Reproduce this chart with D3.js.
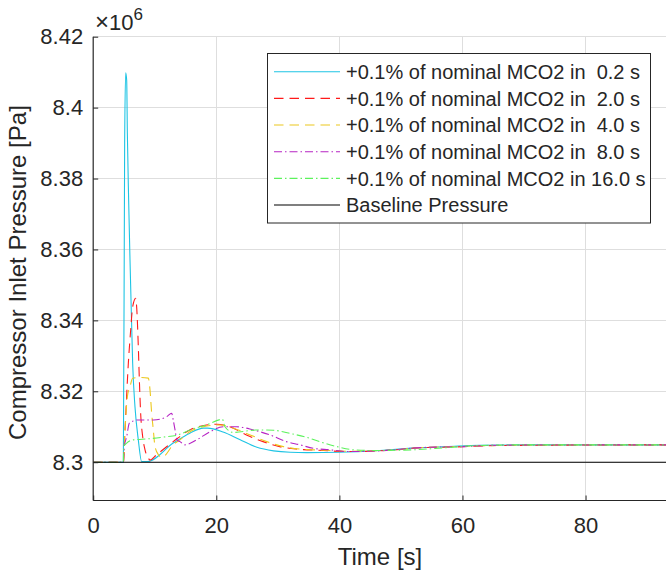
<!DOCTYPE html>
<html>
<head>
<meta charset="utf-8">
<script src="https://cdn.jsdelivr.net/npm/d3@7"></script>
<style>
  html, body { margin: 0; padding: 0; background: #fff; }
  svg { display: block; font-family: "Liberation Sans", Arial, Helvetica, sans-serif; }
  text { white-space: pre; }
</style>
</head>
<body>
<svg id="chart" width="666" height="574"></svg>
<script>
// ---- data (pressure in units of 1e6 Pa, time in s) ----
const seriesNames = [
  "+0.1% of nominal MCO2 in  0.2 s",
  "+0.1% of nominal MCO2 in  2.0 s",
  "+0.1% of nominal MCO2 in  4.0 s",
  "+0.1% of nominal MCO2 in  8.0 s",
  "+0.1% of nominal MCO2 in 16.0 s"
];
const baselineName = "Baseline Pressure";
const baselineValue = 8.3;

const T_02 = [0, 4.90, 5.11, 5.28, 5.44, 5.55, 5.76, 5.98, 6.20, 6.41, 6.79, 7.33, 7.87, 8.79, 13.0, 15.7, 17.9, 18.6, 21.1, 23.8, 26.6, 29.3, 32.0, 34.7, 40.0, 46.6, 53.1, 57.4, 62.8, 70, 93.2];
const P_02 = [8.3, 8.3, 8.390, 8.4098, 8.4077, 8.3928, 8.3739, 8.357, 8.342, 8.328, 8.3156, 8.3063, 8.3002, 8.3002, 8.3054, 8.3082, 8.3096, 8.3096, 8.3085, 8.3064, 8.3042, 8.3032, 8.3028, 8.3027, 8.3028, 8.3033, 8.3041, 8.3044, 8.3048, 8.3049, 8.3049];

const T_2 = [0, 4.9, 5.17, 5.71, 6.09, 6.41, 6.90, 7.06, 7.33, 7.50, 7.71, 8.04, 8.42, 8.96, 9.23, 10.3, 13.0, 15.7, 18.4, 20.1, 22.2, 24.9, 27.6, 30.3, 33.1, 37.4, 41.2, 49.3, 53.1, 59.0, 65.6, 93.2];
const P_2 = [8.3, 8.3, 8.3091, 8.3279, 8.3373, 8.3438, 8.3462, 8.3438, 8.3326, 8.3232, 8.3138, 8.3072, 8.3035, 8.3011, 8.3006, 8.3021, 8.3058, 8.3091, 8.3105, 8.3107, 8.3100, 8.3077, 8.3058, 8.3044, 8.3037, 8.3033, 8.3030, 8.3035, 8.3041, 8.3043, 8.3047, 8.3049];

const T_4 = [0, 4.9, 5.17, 5.55, 5.98, 6.41, 7.6, 8.96, 9.23, 9.50, 9.77, 10.04, 10.6, 11.2, 13.0, 14.1, 15.7, 17.9, 20.6, 22.8, 25.5, 28.2, 30.9, 33.6, 37.5, 41.5, 49, 53, 59, 65.5, 93.2];
const P_4 = [8.3, 8.3, 8.3091, 8.3185, 8.3213, 8.3237, 8.3239, 8.3237, 8.3204, 8.3138, 8.3091, 8.3044, 8.3021, 8.3014, 8.3049, 8.3063, 8.3086, 8.3100, 8.3105, 8.3096, 8.3077, 8.3058, 8.3044, 8.3037, 8.3034, 8.3031, 8.3035, 8.3041, 8.3044, 8.3047, 8.3049];

const T_8 = [0, 4.9, 5.06, 5.44, 5.87, 6.25, 7.06, 9.77, 11.9, 12.75, 13.0, 13.3, 13.6, 14.1, 14.9, 16.8, 19.0, 21.1, 23.3, 26.0, 28.7, 31.4, 33.6, 35.8, 38.5, 41.2, 46.6, 53.1, 60.1, 66, 93.2];
const P_8 = [8.3, 8.3, 8.3044, 8.3072, 8.3110, 8.3114, 8.3119, 8.3119, 8.3128, 8.3138, 8.3119, 8.3091, 8.3063, 8.3058, 8.3049, 8.3063, 8.3086, 8.3100, 8.3100, 8.3091, 8.3077, 8.3058, 8.3049, 8.3039, 8.3035, 8.3030, 8.3032, 8.3041, 8.3044, 8.3048, 8.3049];

const T_16 = [0, 4.9, 4.95, 5.44, 6.52, 9.0, 11.5, 13.8, 15.7, 18.4, 21.0, 21.4, 22.8, 26.6, 29.3, 32.3, 34.7, 36.8, 39.6, 42.3, 45.5, 52.0, 57.4, 62.8, 70, 93.2];
const P_16 = [8.3, 8.3, 8.3044, 8.3054, 8.3063, 8.3066, 8.3071, 8.3077, 8.3091, 8.3105, 8.3121, 8.3100, 8.3084, 8.3091, 8.3090, 8.3080, 8.3070, 8.3058, 8.3044, 8.3035, 8.3033, 8.3035, 8.3041, 8.3047, 8.3049, 8.3049];

const xTicks = [0, 20, 40, 60, 80];
const yTicks = [8.3, 8.32, 8.34, 8.36, 8.38, 8.4, 8.42];
const yTickLabels = ["8.3", "8.32", "8.34", "8.36", "8.38", "8.4", "8.42"];
const xLabel = "Time [s]";
const yLabel = "Compressor Inlet Pressure [Pa]";

// ---- styles ----
const seriesStyles = [
  { color: "#1ec4e4", dash: null },
  { color: "#ff1a1a", dash: "9.5,6" },
  { color: "#ecc81e", dash: "9.5,6" },
  { color: "#b624c4", dash: "8,3,1.5,3" },
  { color: "#5cf25c", dash: "8,3,1.5,3" }
];

const seriesData = [[T_02, P_02], [T_2, P_2], [T_4, P_4], [T_8, P_8], [T_16, P_16]]
  .map(([t, p]) => t.map((v, i) => ({ t: v, p: p[i] })));

const svg = d3.select("#chart");
const x = d3.scaleLinear().domain([0, 93.2]).range([93.2, 666.8]);
const y = d3.scaleLinear().domain([8.2892, 8.42]).range([500.5, 36.7]);
const pLeft = x.range()[0], pRight = x.range()[1];
const pTop = y.range()[1], pBottom = y.range()[0];
const axisColor = "#262626";

// grid
const grid = svg.append("g");
grid.selectAll(".gx").data(xTicks.filter(d => d > 0)).join("line")
  .attr("x1", d => x(d)).attr("x2", d => x(d))
  .attr("y1", pTop).attr("y2", pBottom)
  .attr("stroke", "#dedede").attr("stroke-width", 1).attr("shape-rendering", "crispEdges");
grid.selectAll(".gy").data(yTicks).join("line")
  .attr("x1", pLeft).attr("x2", pRight)
  .attr("y1", d => y(d)).attr("y2", d => y(d))
  .attr("stroke", "#dedede").attr("stroke-width", 1).attr("shape-rendering", "crispEdges");

// lines
svg.append("clipPath").attr("id", "clip").append("rect")
  .attr("x", pLeft).attr("y", pTop - 1).attr("width", pRight - pLeft).attr("height", pBottom - pTop + 1);
const line = d3.line().x(d => x(d.t)).y(d => y(d.p)).curve(d3.curveMonotoneX);
const plot = svg.append("g").attr("clip-path", "url(#clip)");
seriesData.forEach((data, i) => {
  plot.append("path").datum(data)
    .attr("fill", "none")
    .attr("stroke", seriesStyles[i].color)
    .attr("stroke-width", 1.1)
    .attr("stroke-dasharray", seriesStyles[i].dash)
    .attr("d", line);
});
plot.append("path").datum([{ t: 0, p: baselineValue }, { t: 93.2, p: baselineValue }])
  .attr("fill", "none").attr("stroke", "#000").attr("stroke-width", 1.1).attr("d", line);

// axes
const xAxis = d3.axisBottom(x).tickValues(xTicks).tickSize(-5).tickPadding(17).tickFormat(d3.format("d"));
const yAxis = d3.axisLeft(y).tickValues(yTicks).tickSize(-5).tickPadding(10)
  .tickFormat((d, i) => yTickLabels[i]);

const gx = svg.append("g").attr("transform", `translate(0,${pBottom})`).call(xAxis);
const gy = svg.append("g").attr("transform", `translate(${pLeft},0)`).call(yAxis);
[gx, gy].forEach(g => {
  g.select(".domain").attr("stroke", axisColor).attr("stroke-width", 1.2);
  g.selectAll(".tick line").attr("stroke", axisColor).attr("stroke-width", 1);
  g.selectAll(".tick text").attr("fill", axisColor).attr("font-size", 22)
    .attr("font-family", "Liberation Sans, Arial, sans-serif");
});
gx.select(".domain").attr("d", `M${pLeft},0H${pRight + 5}`);
gy.select(".domain").attr("d", `M0,${pBottom}V${pTop}`);

// exponent label
const expo = svg.append("text").attr("x", 95).attr("y", 29.5)
  .attr("fill", axisColor).attr("font-size", 22);
expo.append("tspan").attr("font-size", 24).text("\u00d7");
expo.append("tspan").text("10");
expo.append("tspan").attr("font-size", 17).attr("dy", -10).text("6");

// axis labels
svg.append("text").attr("x", (pLeft + pRight) / 2).attr("y", 565)
  .attr("text-anchor", "middle").attr("fill", axisColor).attr("font-size", 24).text(xLabel);
svg.append("text").attr("transform", `translate(26,${(pTop + pBottom) / 2 + 4}) rotate(-90)`)
  .attr("text-anchor", "middle").attr("fill", axisColor).attr("font-size", 24).text(yLabel);

// legend
const lg = svg.append("g");
lg.append("rect").attr("x", 267.5).attr("y", 53.5).attr("width", 383).attr("height", 169.5)
  .attr("fill", "#fff").attr("stroke", axisColor).attr("stroke-width", 1);
const legendItems = seriesNames.map((n, i) => ({ name: n, color: seriesStyles[i].color, dash: seriesStyles[i].dash }))
  .concat([{ name: baselineName, color: "#000", dash: null }]);
legendItems.forEach((it, i) => {
  const cy = 71.7 + i * 26.66;
  lg.append("line").attr("x1", 274).attr("x2", 340).attr("y1", cy).attr("y2", cy)
    .attr("stroke", it.color).attr("stroke-width", 1.1).attr("stroke-dasharray", it.dash);
  lg.append("text").attr("x", 346).attr("y", cy + 7.2).attr("fill", axisColor)
    .attr("font-size", 20).text(it.name);
});
</script>
</body>
</html>
